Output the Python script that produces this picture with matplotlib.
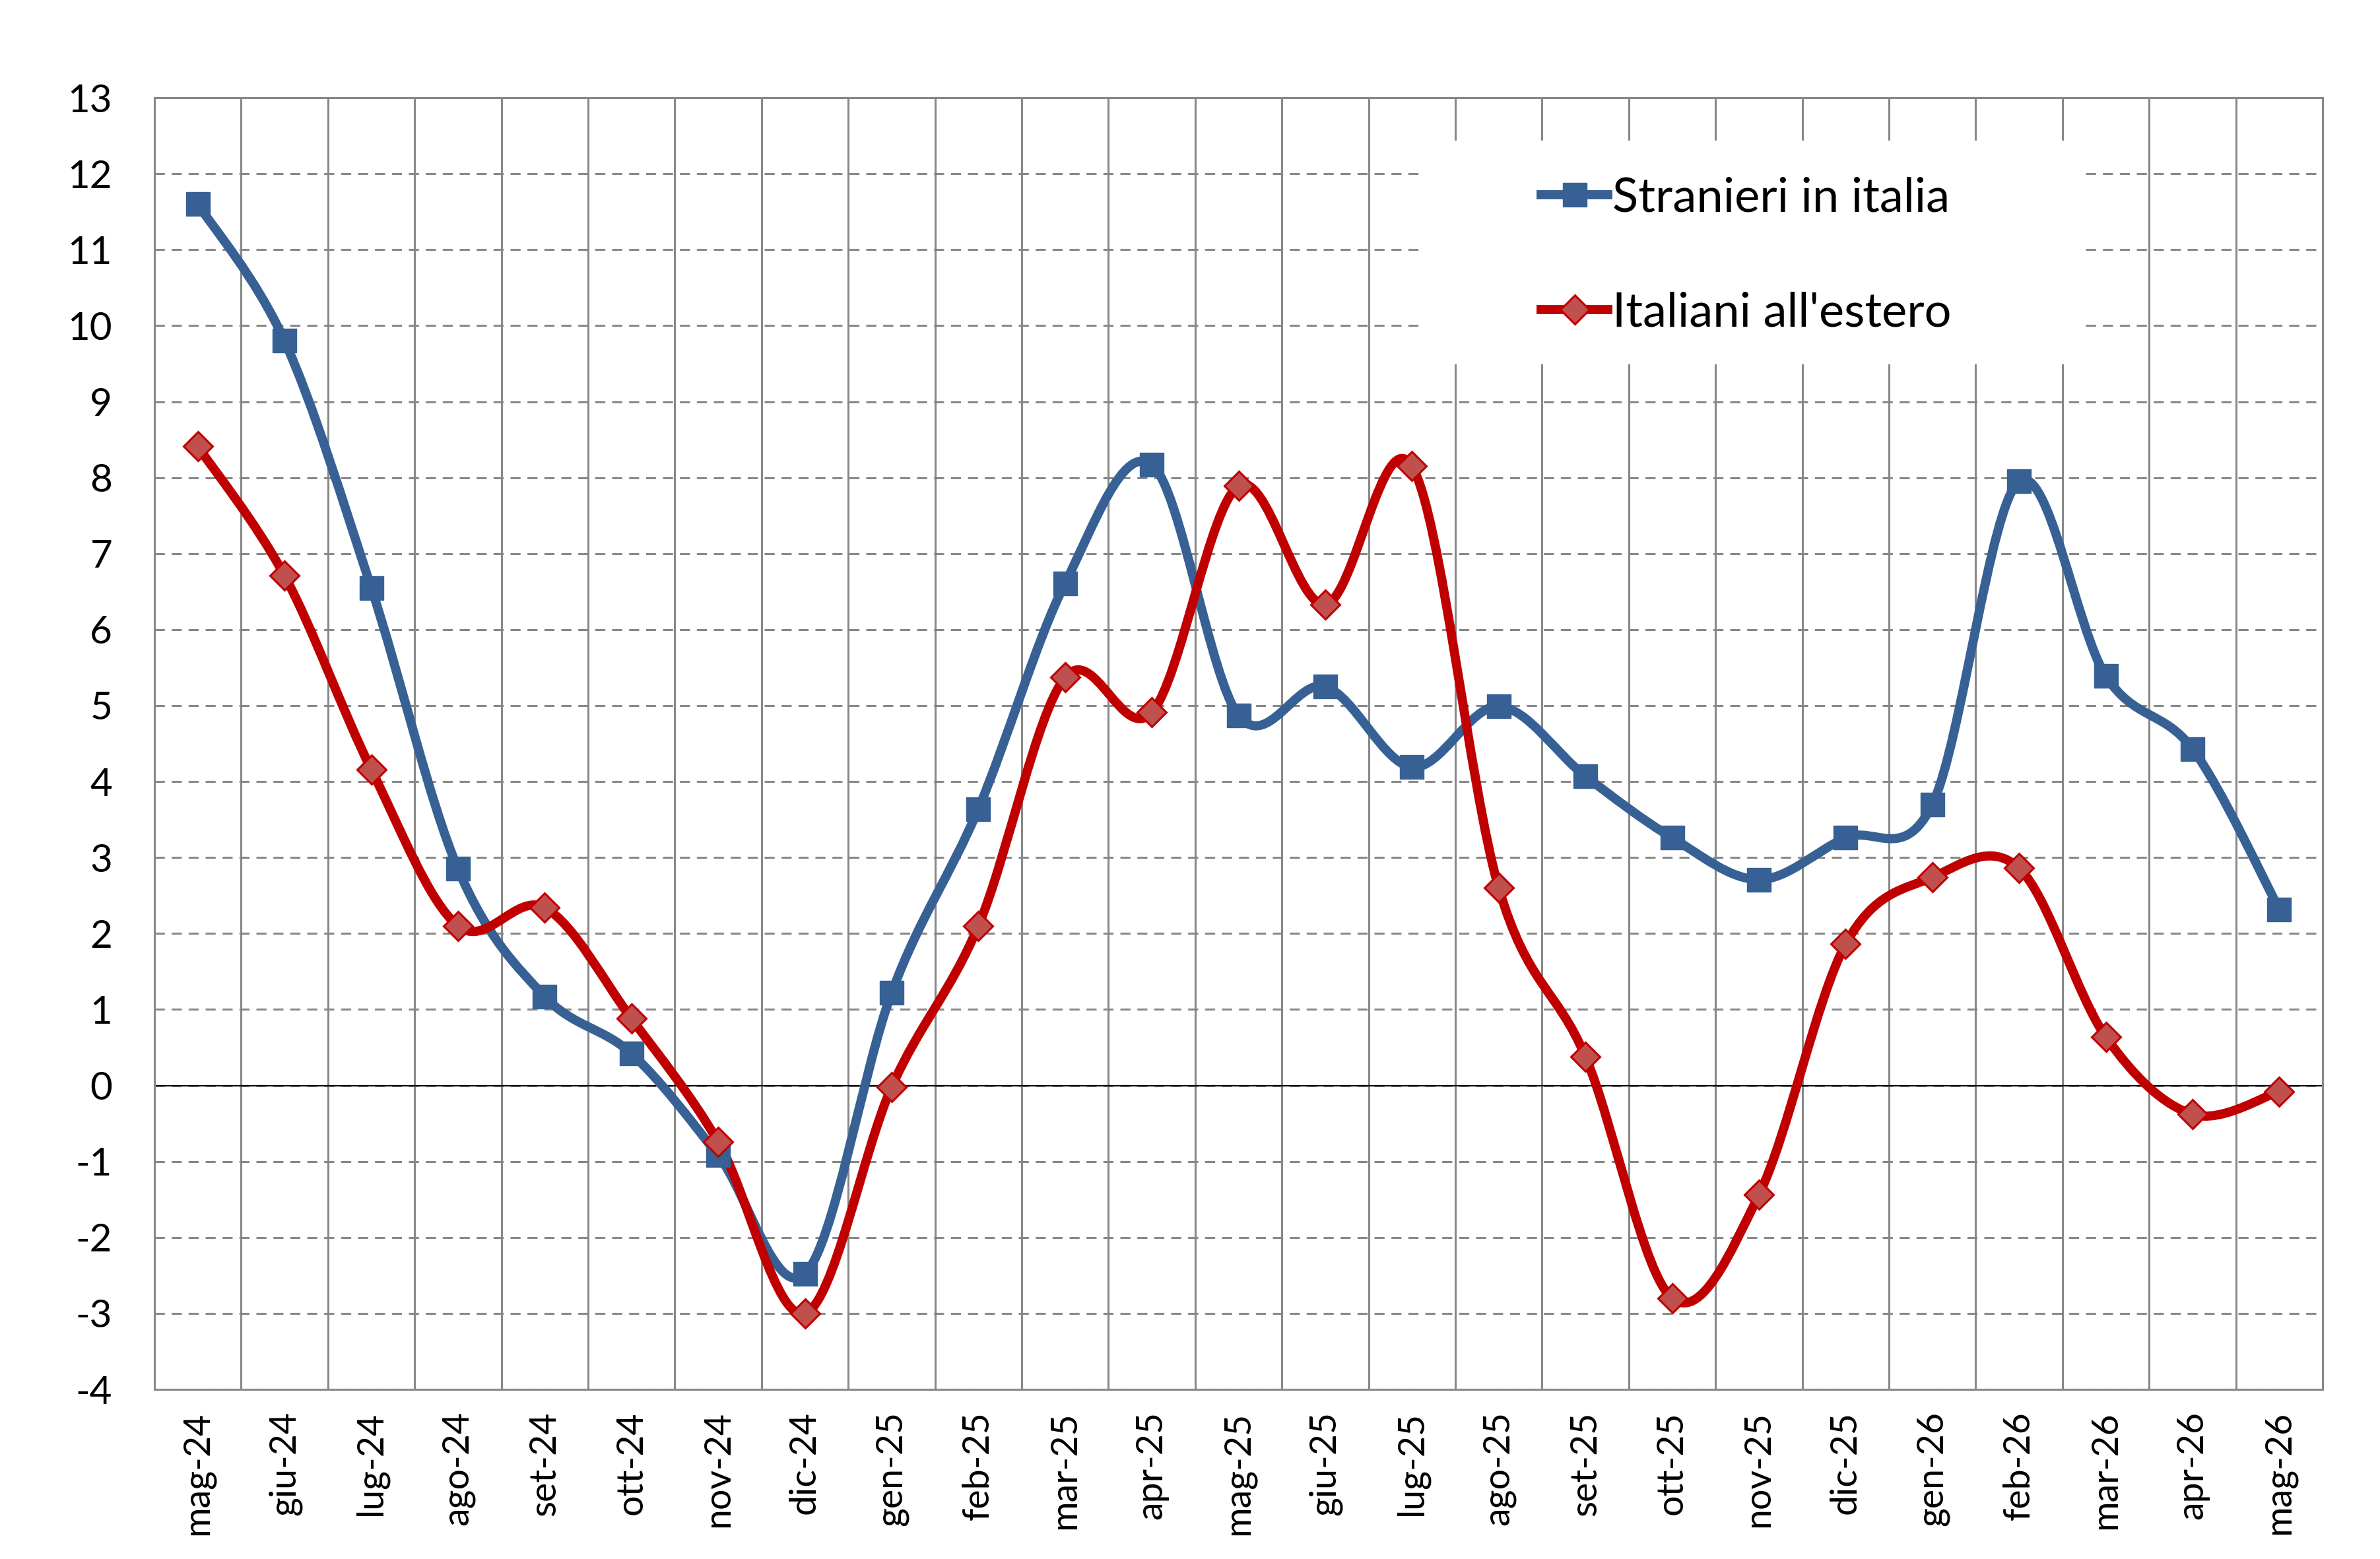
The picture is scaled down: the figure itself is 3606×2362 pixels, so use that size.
import numpy as np
import matplotlib
matplotlib.use('Agg')
import matplotlib.pyplot as plt
from matplotlib.path import Path
from matplotlib.patches import PathPatch, Rectangle
from matplotlib.lines import Line2D

mesi = ['mag-24', 'giu-24', 'lug-24', 'ago-24', 'set-24', 'ott-24', 'nov-24',
        'dic-24', 'gen-25', 'feb-25', 'mar-25', 'apr-25', 'mag-25', 'giu-25',
        'lug-25', 'ago-25', 'set-25', 'ott-25', 'nov-25', 'dic-25', 'gen-26',
        'feb-26', 'mar-26', 'apr-26', 'mag-26']

stranieri = [11.6, 9.8, 6.55, 2.85, 1.17, 0.42, -0.92, -2.48, 1.22, 3.64,
             6.61, 8.17, 4.87, 5.25, 4.19, 4.99, 4.07, 3.26, 2.71, 3.26,
             3.7, 7.95, 5.39, 4.43, 2.32]

italiani = [8.41, 6.71, 4.16, 2.1, 2.34, 0.88, -0.74, -3.0, -0.02, 2.1,
            5.37, 4.91, 7.89, 6.33, 8.15, 2.6, 0.38, -2.8, -1.44, 1.86,
            2.74, 2.86, 0.64, -0.38, -0.08]

blu = '#376194'
rosso = '#C00000'
rosso_chiaro = '#C0504D'
grigio = '#888888'

plt.rcParams['font.family'] = ['Lato', 'DejaVu Sans']
plt.rcParams['axes.unicode_minus'] = False


def curva_liscia(xs, ys):
    # bezier tipo "linea smussata" di Excel
    pts = np.column_stack([xs, ys]).astype(float)
    n = len(pts)
    verts = [pts[0]]
    codes = [Path.MOVETO]
    for i in range(n - 1):
        p0 = pts[i - 1] if i > 0 else pts[i]
        p1 = pts[i]
        p2 = pts[i + 1]
        p3 = pts[i + 2] if i + 2 < n else pts[i + 1]
        verts += [p1 + (p2 - p0) / 6, p2 - (p3 - p1) / 6, p2]
        codes += [Path.CURVE4] * 3
    return Path(verts, codes)


x = np.arange(len(mesi))

fig = plt.figure(figsize=(36.06, 23.62), dpi=100)
ax = fig.add_axes([0.0649, 0.1088, 0.911, 0.8285])

ax.set_xlim(-0.5, len(mesi) - 0.5)
ax.set_ylim(-4, 13)
ax.set_yticks(range(-4, 14))
ax.set_xticks(x)
ax.set_xticklabels(mesi, rotation=90)
ax.set_xticks(np.arange(0.5, len(mesi) - 1, 1), minor=True)

ax.set_axisbelow(True)
ax.yaxis.grid(True, color=grigio, lw=2.2, linestyle=(0, (5, 3.4)))
ax.xaxis.grid(True, which='minor', color=grigio, lw=2.2)
ax.tick_params(axis='both', which='both', length=0)
ax.tick_params(axis='y', labelsize=42, pad=46)
ax.tick_params(axis='x', labelsize=40, pad=24)
for s in ax.spines.values():
    s.set_color(grigio)
    s.set_linewidth(2.2)

ax.axhline(0, color='black', lw=1.6, zorder=1.2)

# riquadro bianco della legenda
ax.add_patch(Rectangle((0.585, 0.7936), 0.304, 0.1734, transform=ax.transAxes,
                       facecolor='white', edgecolor='none', zorder=1))

ax.add_patch(PathPatch(curva_liscia(x, stranieri), fill=False, edgecolor=blu,
                       lw=10, capstyle='round', joinstyle='round', zorder=3))
ax.plot(x, stranieri, linestyle='none', marker='s', markersize=26,
        markerfacecolor=blu, markeredgecolor=blu, zorder=4)

ax.add_patch(PathPatch(curva_liscia(x, italiani), fill=False, edgecolor=rosso,
                       lw=10, capstyle='round', joinstyle='round', zorder=3))
ax.plot(x, italiani, linestyle='none', marker='D', markersize=22,
        markerfacecolor=rosso_chiaro, markeredgecolor=rosso,
        markeredgewidth=2.2, zorder=4)

handles = [
    Line2D([], [], color=blu, lw=10, marker='s', markersize=26,
           markerfacecolor=blu, markeredgecolor=blu),
    Line2D([], [], color=rosso, lw=10, marker='D', markersize=22,
           markerfacecolor=rosso_chiaro, markeredgecolor=rosso,
           markeredgewidth=2.2),
]
leg = ax.legend(handles, ['Stranieri in italia', "Italiani all'estero"],
                loc='center left', bbox_to_anchor=(0.6396, 0.878),
                frameon=False, fontsize=52, handlelength=1.4,
                handletextpad=0.1, labelspacing=1.5, borderpad=0,
                borderaxespad=0)
leg.set_zorder(5)

fig.savefig('out.png', dpi=100, facecolor='white')
